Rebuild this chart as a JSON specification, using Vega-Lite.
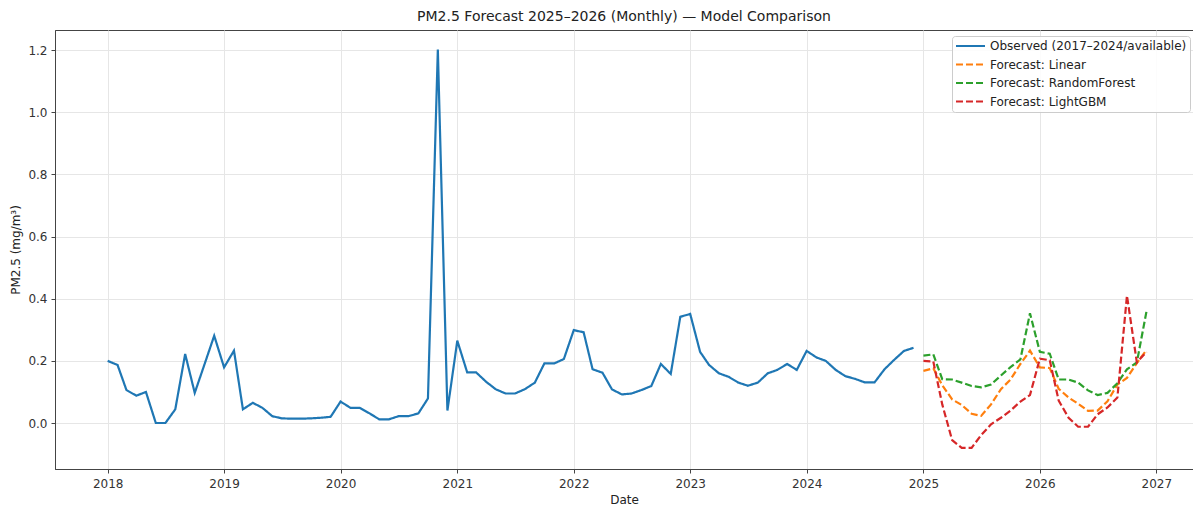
{
  "$schema": "https://vega.github.io/schema/vega-lite/v6.json",
  "width": 1138,
  "height": 439,
  "autosize": {"type": "none"},
  "padding": {"left": 55, "top": 30, "right": 0, "bottom": 38},
  "background": "white",
  "title": {
    "text": "PM2.5 Forecast 2025–2026 (Monthly) — Model Comparison",
    "fontSize": 14, "fontWeight": "normal", "color": "#222", "font": "DejaVu Sans", "offset": 6
  },
  "config": {
    "font": "DejaVu Sans",
    "view": {"stroke": "#444", "strokeWidth": 1},
    "axis": {
      "labelFont": "DejaVu Sans", "labelFontSize": 12, "labelColor": "#333",
      "titleFont": "DejaVu Sans", "titleFontSize": 12, "titleFontWeight": "normal", "titleColor": "#222",
      "gridColor": "#e6e6e6", "gridWidth": 1,
      "domainColor": "#444", "tickColor": "#444", "tickSize": 4
    }
  },
  "data": {
    "values": [
      {"d": "2018-01-01", "o": 0.200}, {"d": "2018-02-01", "o": 0.187}, {"d": "2018-03-01", "o": 0.106}, {"d": "2018-04-01", "o": 0.088},
      {"d": "2018-05-01", "o": 0.100}, {"d": "2018-06-01", "o": 0.000}, {"d": "2018-07-01", "o": 0.000}, {"d": "2018-08-01", "o": 0.044},
      {"d": "2018-09-01", "o": 0.222}, {"d": "2018-10-01", "o": 0.097}, {"d": "2018-11-01", "o": 0.190}, {"d": "2018-12-01", "o": 0.281},
      {"d": "2019-01-01", "o": 0.179}, {"d": "2019-02-01", "o": 0.233}, {"d": "2019-03-01", "o": 0.044}, {"d": "2019-04-01", "o": 0.065},
      {"d": "2019-05-01", "o": 0.049}, {"d": "2019-06-01", "o": 0.022}, {"d": "2019-07-01", "o": 0.015}, {"d": "2019-08-01", "o": 0.014},
      {"d": "2019-09-01", "o": 0.014}, {"d": "2019-10-01", "o": 0.015}, {"d": "2019-11-01", "o": 0.017}, {"d": "2019-12-01", "o": 0.020},
      {"d": "2020-01-01", "o": 0.069}, {"d": "2020-02-01", "o": 0.049}, {"d": "2020-03-01", "o": 0.049}, {"d": "2020-04-01", "o": 0.031},
      {"d": "2020-05-01", "o": 0.012}, {"d": "2020-06-01", "o": 0.012}, {"d": "2020-07-01", "o": 0.022}, {"d": "2020-08-01", "o": 0.022},
      {"d": "2020-09-01", "o": 0.031}, {"d": "2020-10-01", "o": 0.079}, {"d": "2020-11-01", "o": 1.202}, {"d": "2020-12-01", "o": 0.040},
      {"d": "2021-01-01", "o": 0.265}, {"d": "2021-02-01", "o": 0.163}, {"d": "2021-03-01", "o": 0.163}, {"d": "2021-04-01", "o": 0.133},
      {"d": "2021-05-01", "o": 0.109}, {"d": "2021-06-01", "o": 0.095}, {"d": "2021-07-01", "o": 0.095}, {"d": "2021-08-01", "o": 0.109},
      {"d": "2021-09-01", "o": 0.130}, {"d": "2021-10-01", "o": 0.192}, {"d": "2021-11-01", "o": 0.192}, {"d": "2021-12-01", "o": 0.206},
      {"d": "2022-01-01", "o": 0.299}, {"d": "2022-02-01", "o": 0.292}, {"d": "2022-03-01", "o": 0.173}, {"d": "2022-04-01", "o": 0.162},
      {"d": "2022-05-01", "o": 0.108}, {"d": "2022-06-01", "o": 0.092}, {"d": "2022-07-01", "o": 0.095}, {"d": "2022-08-01", "o": 0.106},
      {"d": "2022-09-01", "o": 0.119}, {"d": "2022-10-01", "o": 0.190}, {"d": "2022-11-01", "o": 0.158}, {"d": "2022-12-01", "o": 0.342},
      {"d": "2023-01-01", "o": 0.351}, {"d": "2023-02-01", "o": 0.229}, {"d": "2023-03-01", "o": 0.187}, {"d": "2023-04-01", "o": 0.160},
      {"d": "2023-05-01", "o": 0.149}, {"d": "2023-06-01", "o": 0.130}, {"d": "2023-07-01", "o": 0.120}, {"d": "2023-08-01", "o": 0.130},
      {"d": "2023-09-01", "o": 0.160}, {"d": "2023-10-01", "o": 0.171}, {"d": "2023-11-01", "o": 0.190}, {"d": "2023-12-01", "o": 0.171},
      {"d": "2024-01-01", "o": 0.232}, {"d": "2024-02-01", "o": 0.211}, {"d": "2024-03-01", "o": 0.200}, {"d": "2024-04-01", "o": 0.171},
      {"d": "2024-05-01", "o": 0.151}, {"d": "2024-06-01", "o": 0.142}, {"d": "2024-07-01", "o": 0.131}, {"d": "2024-08-01", "o": 0.131},
      {"d": "2024-09-01", "o": 0.173}, {"d": "2024-10-01", "o": 0.203}, {"d": "2024-11-01", "o": 0.232}, {"d": "2024-12-01", "o": 0.242},
      {"d": "2025-01-01", "l": 0.168, "r": 0.217, "g": 0.200},
      {"d": "2025-02-01", "l": 0.176, "r": 0.221, "g": 0.198},
      {"d": "2025-03-01", "l": 0.122, "r": 0.141, "g": 0.060},
      {"d": "2025-04-01", "l": 0.076, "r": 0.140, "g": -0.055},
      {"d": "2025-05-01", "l": 0.058, "r": 0.130, "g": -0.080},
      {"d": "2025-06-01", "l": 0.030, "r": 0.119, "g": -0.080},
      {"d": "2025-07-01", "l": 0.023, "r": 0.115, "g": -0.039},
      {"d": "2025-08-01", "l": 0.060, "r": 0.124, "g": -0.004},
      {"d": "2025-09-01", "l": 0.109, "r": 0.153, "g": 0.017},
      {"d": "2025-10-01", "l": 0.140, "r": 0.180, "g": 0.040},
      {"d": "2025-11-01", "l": 0.190, "r": 0.205, "g": 0.069},
      {"d": "2025-12-01", "l": 0.233, "r": 0.353, "g": 0.090},
      {"d": "2026-01-01", "l": 0.179, "r": 0.229, "g": 0.207},
      {"d": "2026-02-01", "l": 0.177, "r": 0.223, "g": 0.202},
      {"d": "2026-03-01", "l": 0.110, "r": 0.140, "g": 0.072},
      {"d": "2026-04-01", "l": 0.082, "r": 0.140, "g": 0.017},
      {"d": "2026-05-01", "l": 0.062, "r": 0.130, "g": -0.012},
      {"d": "2026-06-01", "l": 0.039, "r": 0.105, "g": -0.012},
      {"d": "2026-07-01", "l": 0.040, "r": 0.090, "g": 0.028},
      {"d": "2026-08-01", "l": 0.070, "r": 0.097, "g": 0.050},
      {"d": "2026-09-01", "l": 0.124, "r": 0.128, "g": 0.082},
      {"d": "2026-10-01", "l": 0.145, "r": 0.173, "g": 0.410},
      {"d": "2026-11-01", "l": 0.193, "r": 0.195, "g": 0.195},
      {"d": "2026-12-01", "l": 0.235, "r": 0.358, "g": 0.229}
    ]
  },
  "transform": [
    {"fold": ["o", "l", "r", "g"], "as": ["s", "v"]},
    {"filter": "isValid(datum.v)"}
  ],
  "mark": {"type": "line", "strokeWidth": 2.2, "clip": true},
  "encoding": {
    "x": {
      "field": "d", "type": "temporal", "title": "Date",
      "scale": {"domain": [{"year": 2017, "month": 7, "date": 20}, {"year": 2027, "month": 4, "date": 26}]},
      "axis": {
        "format": "%Y", "labelPadding": 5, "titlePadding": 5,
        "values": [
          {"year": 2018, "month": 1, "date": 1}, {"year": 2019, "month": 1, "date": 1}, {"year": 2020, "month": 1, "date": 1},
          {"year": 2021, "month": 1, "date": 1}, {"year": 2022, "month": 1, "date": 1}, {"year": 2023, "month": 1, "date": 1},
          {"year": 2024, "month": 1, "date": 1}, {"year": 2025, "month": 1, "date": 1}, {"year": 2026, "month": 1, "date": 1},
          {"year": 2027, "month": 1, "date": 1}
        ]
      }
    },
    "y": {
      "field": "v", "type": "quantitative", "title": "PM2.5 (mg/m³)",
      "scale": {"domain": [-0.148, 1.265], "nice": false, "zero": false},
      "axis": {"values": [0, 0.2, 0.4, 0.6, 0.8, 1.0, 1.2], "format": ".1f", "labelPadding": 4, "titlePadding": 5}
    },
    "color": {
      "field": "s", "type": "nominal",
      "scale": {"domain": ["o", "l", "r", "g"], "range": ["#1f77b4", "#ff7f0e", "#2ca02c", "#d62728"]},
      "legend": {
        "title": null, "orient": "none", "legendX": 897, "legendY": 6,
        "labelExpr": "datum.value == 'o' ? 'Observed (2017–2024/available)' : datum.value == 'l' ? 'Forecast: Linear' : datum.value == 'r' ? 'Forecast: RandomForest' : 'Forecast: LightGBM'",
        "symbolType": "stroke", "symbolSize": 841, "symbolStrokeWidth": 2,
        "labelFontSize": 12, "labelColor": "#222", "labelFont": "DejaVu Sans", "labelLimit": 300,
        "strokeColor": "#cccccc", "fillColor": "rgba(255,255,255,0.85)", "cornerRadius": 3,
        "padding": 3, "rowPadding": 4.5, "clipHeight": 14
      }
    },
    "strokeDash": {
      "field": "s", "type": "nominal",
      "scale": {"domain": ["o", "l", "r", "g"], "range": [[1, 0], [7, 3], [7, 3], [7, 3]]},
      "legend": null
    }
  }
}
